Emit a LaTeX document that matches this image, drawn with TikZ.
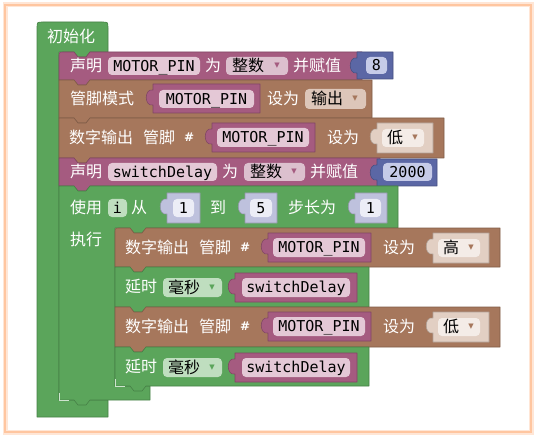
\documentclass[tikz,border=0pt]{standalone}
\usepackage{fontspec}
\newfontfamily\cjk{Noto Sans CJK SC}
\newfontfamily\monof{DejaVu Sans Mono}
\newfontfamily\symf{DejaVu Sans}
\definecolor{grn}{HTML}{5BA55B}
\definecolor{pur}{HTML}{A55B80}
\definecolor{brn}{HTML}{A6775C}
\definecolor{blu}{HTML}{5B67A5}
\definecolor{pillpur}{HTML}{E4C8D6}
\definecolor{droppur}{HTML}{DCC0CE}
\definecolor{dropbrn}{HTML}{DDC6B9}
\definecolor{contbrn}{HTML}{E2CFC3}
\definecolor{pillbrn}{HTML}{F4ECE7}
\definecolor{shmath}{HTML}{BEC1DD}
\definecolor{pillmath}{HTML}{ECEDF6}
\definecolor{pillblu}{HTML}{C6CBE8}
\definecolor{pillgrn}{HTML}{BFDEBF}
\definecolor{framec}{HTML}{FFC6A0}
\definecolor{frameh}{HTML}{FFE6D6}
\tikzset{
 blk/.style={line width=0.6pt, line join=round},
 lbl/.style={anchor=west, inner sep=0pt, text=white, font=\cjk\fontsize{16}{16}\selectfont, text height=13pt, text depth=1.5pt},
 dlbl/.style={anchor=west, inner sep=0pt, text=black, font=\cjk\fontsize{16}{16}\selectfont, text height=13pt, text depth=1.5pt},
 mono/.style={inner sep=0pt, text=black, font=\monof\fontsize{15}{15}\selectfont, text height=10.8pt, text depth=0pt},
 tri/.style={inner sep=0pt, font=\symf\fontsize{7}{7}\selectfont},
 hash/.style={anchor=west, inner sep=0pt, text=white, font=\symf\bfseries\fontsize{12}{12}\selectfont, text height=8.7pt, text depth=0pt},
}
\newcommand\stmt[6]{%
 \draw[blk,fill=#1,draw=#1!78!black] ({#2},{#5}) -- ({#2},{#3+#6}) .. controls ({#2},{#3}) .. ({#2+#6},{#3}) -- ({#2+15},{#3}) -- ({#2+19},{#3+5}) -- ({#2+27},{#3+5}) -- ({#2+31},{#3}) -- ({#4},{#3}) -- ({#4},{#5}) -- ({#2+31},{#5}) -- ({#2+27},{#5+5}) -- ({#2+19},{#5+5}) -- ({#2+15},{#5}) -- cycle;}
\newcommand\valblk[5]{%
 \draw[blk,fill=#1,draw=#1!78!black] ({#2},{#3}) -- ({#4},{#3}) -- ({#4},{#5}) -- ({#2},{#5}) -- ({#2},{#3+21}) .. controls ({#2-9},{#3+23}) and ({#2-9},{#3+4}) .. ({#2},{#3+6}) -- cycle;}
\newcommand\pill[5]{\fill[#1,rounded corners=4pt] ({#2},{#3}) rectangle ({#4},{#5});}
\newcommand\dout[6]{%
 \stmt{brn}{#1}{#2}{#1+385}{#3}{#5}
 \node[lbl] (#6a) at ({#1+10},{#2+19.5}) {数字输出};
 \node[lbl] (#6b) at ({#1+84},{#2+19.5}) {管脚};
 \node[hash] (#6c) at ({#1+125},{#2+19.5}) {\#};
 \valblk{pur}{#1+153}{#2+5}{#1+256}{#2+34}
 \pill{pillpur}{#1+158}{#2+10}{#1+250}{#2+29}
 \node[mono] (#6d) at ({#1+204},{#2+19.5}) {MOTOR\_PIN};
 \node[lbl] (#6e) at ({#1+268},{#2+19.5}) {设为};
 \valblk{contbrn}{#1+318}{#2+5}{#1+374}{#2+35}
 \pill{pillbrn}{#1+323}{#2+11}{#1+365}{#2+29}
 \node[dlbl] (#6f) at ({#1+328},{#2+20}) {#4};
 \node[tri,text=brn] (#6g) at ({#1+356},{#2+20}) {▼};
}
\newcommand\delayblk[4]{%
 \stmt{grn}{#1}{#2}{#1+254}{#3}{0}
 \node[lbl] (#4a) at ({#1+10},{#2+20}) {延时};
 \pill{pillgrn}{#1+48}{#2+11}{#1+107}{#2+30}
 \node[dlbl] (#4b) at ({#1+53},{#2+20.5}) {毫秒};
 \node[tri,text=grn] (#4c) at ({#1+97},{#2+20.5}) {▼};
 \valblk{pur}{#1+120}{#2+6}{#1+242}{#2+35}
 \pill{pillpur}{#1+127}{#2+11}{#1+235}{#2+30}
 \node[mono] (#4d) at ({#1+181},{#2+20.5}) {switchDelay};
}
\begin{document}
\begin{tikzpicture}[x=1pt,y=-1pt]
\useasboundingbox (0,0) rectangle (537,438);
\fill[white] (0,0) rectangle (537,438);
\draw[frameh,line width=5pt] (5,5) rectangle (531,432);
\draw[framec,line width=2.6pt] (5,5) rectangle (531,432);
% outer hat block
\draw[blk,fill=grn,draw=grn!78!black] (37,417) -- (37,28) .. controls (37,22) .. (43,22) -- (102,22) .. controls (108,22) .. (108,28) -- (108,52) -- (90,52) -- (86,57) -- (78,57) -- (74,52) -- (59,52) -- (59,400) -- (108,400) -- (108,417) -- cycle;
\node[lbl] (init) at (47,36.5) {初始化};
% B1
\stmt{pur}{59}{52}{362}{80}{5}
\node[lbl] (b1a) at (70,66) {声明};
\pill{pillpur}{108}{57}{200}{75}
\node[mono] (b1v) at (154,66) {MOTOR\_PIN};
\node[lbl] (b1b) at (205,66) {为};
\pill{droppur}{226}{57}{288}{75}
\node[dlbl] (b1t) at (232,66) {整数};
\node[tri,text=pur] (b1tr) at (277,66) {▼};
\node[lbl] (b1c) at (293,66) {并赋值};
\valblk{blu}{357}{52}{393}{79}
\pill{pillblu}{366}{57}{387}{74}
\node[mono] (b1n) at (376.5,65.5) {8};
% B2
\stmt{brn}{59}{80}{372}{118}{0}
\node[lbl] (b2a) at (70,99) {管脚模式};
\valblk{pur}{153}{84}{260}{113}
\pill{pillpur}{159}{90}{254}{108}
\node[mono] (b2v) at (206.5,99) {MOTOR\_PIN};
\node[lbl] (b2b) at (267,99) {设为};
\pill{dropbrn}{305}{89}{366}{109}
\node[dlbl] (b2t) at (311,99) {输出};
\node[tri,text=brn] (b2tr) at (355,99) {▼};
% B3
\dout{59}{118}{158}{低}{0}{b3}
% B4
\stmt{pur}{59}{158}{380}{186}{0}
\node[lbl] (b4a) at (70,172) {声明};
\pill{pillpur}{108}{163}{217}{181}
\node[mono] (b4v) at (162.5,172) {switchDelay};
\node[lbl] (b4b) at (222,172) {为};
\pill{droppur}{244}{163}{305}{181}
\node[dlbl] (b4t) at (250,172) {整数};
\node[tri,text=pur] (b4tr) at (294,172) {▼};
\node[lbl] (b4c) at (310,172) {并赋值};
\valblk{blu}{377}{159}{437}{186}
\pill{pillblu}{383}{163}{432}{181}
\node[mono] (b4n) at (407.5,172) {2000};
% loop block
\draw[blk,fill=grn,draw=grn!78!black] (59,400) -- (59,186) -- (74,186) -- (78,191) -- (86,191) -- (90,186) -- (398,186) -- (398,228) -- (146,228) -- (142,233) -- (134,233) -- (130,228) -- (115,228) -- (115,386) -- (150,386) -- (150,400) -- (90,400) -- (86,405) -- (78,405) -- (74,400) -- cycle;
\node[lbl] (la) at (70,208) {使用};
\pill{pillgrn}{108}{199}{127}{217}
\node[mono] (li) at (117.5,208) {i};
\node[lbl] (lb) at (131,208) {从};
\valblk{shmath}{167}{193}{200}{223}
\pill{pillmath}{173}{199}{194}{217}
\node[mono] (l1) at (183.5,208) {1};
\node[lbl] (lc) at (210,208) {到};
\valblk{shmath}{245}{193}{277}{223}
\pill{pillmath}{250}{199}{272}{217}
\node[mono] (l5) at (261,208) {5};
\node[lbl] (ld) at (288,208) {步长为};
\valblk{shmath}{355}{193}{387}{223}
\pill{pillmath}{360}{199}{381}{217}
\node[mono] (l1b) at (370.5,208) {1};
\node[lbl] (le) at (70,240) {执行};
% inner statements
\dout{115}{228}{267}{高}{5}{i1}
\delayblk{115}{267}{307}{i2}
\dout{115}{307}{347}{低}{0}{i3}
\delayblk{115}{347}{386}{i4}
% highlights
\draw[white!70!grn,line width=0.8pt] (115.5,379) -- (115.5,386.5) -- (125,386.5);
\draw[white!70!grn,line width=0.8pt] (59.5,393) -- (59.5,400.5) -- (69,400.5);
\end{tikzpicture}
\end{document}
